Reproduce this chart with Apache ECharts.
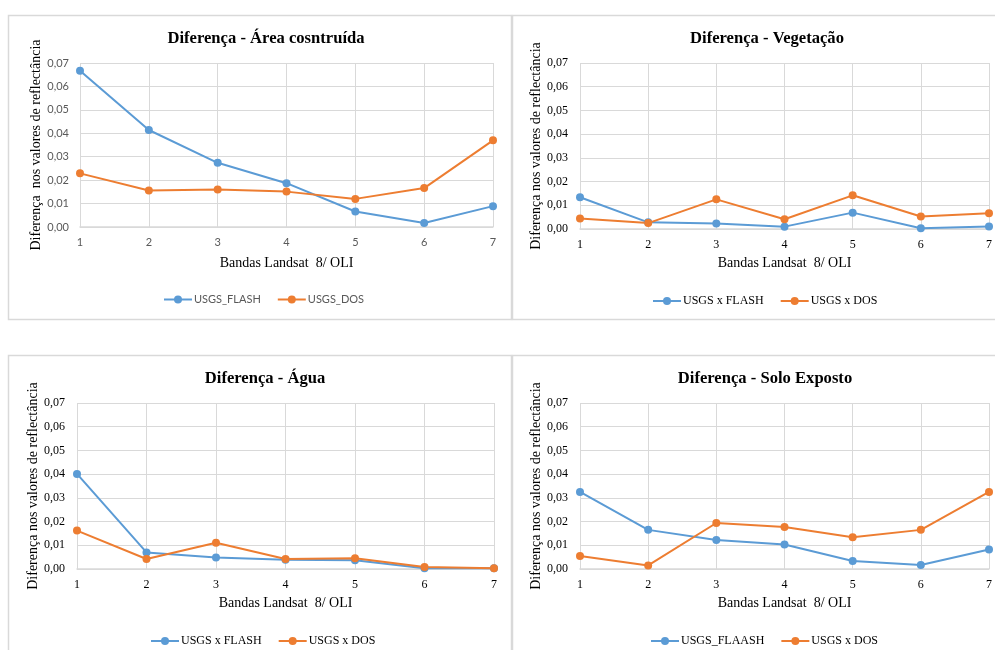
<!DOCTYPE html>
<html>
<head>
<meta charset="utf-8">
<script src="https://cdn.jsdelivr.net/npm/echarts@6/dist/echarts.min.js"></script>
<style>
  html, body { margin: 0; padding: 0; background: #fff; }
  #chart { width: 995px; height: 650px; }
</style>
</head>
<body>
<div id="chart"></div>
<script>
// bandas Landsat 8 / OLI
const bandas = ["1", "2", "3", "4", "5", "6", "7"];

// Área construída
const areaFlash = [0.0667, 0.0414, 0.0274, 0.0187, 0.0066, 0.0017, 0.0089];
const areaDos = [0.0229, 0.0156, 0.016, 0.0151, 0.012, 0.0166, 0.037];

// Vegetação
const vegFlash = [0.0134, 0.0028, 0.0023, 0.001, 0.0069, 0.0003, 0.0011];
const vegDos = [0.0044, 0.0025, 0.0125, 0.0041, 0.0142, 0.0053, 0.0066];

// Água
const aguaFlash = [0.0401, 0.007, 0.0048, 0.0039, 0.0037, 0.0003, 0.0003];
const aguaDos = [0.0162, 0.0042, 0.0111, 0.0042, 0.0045, 0.0008, 0.0003];

// Solo exposto
const soloFlaash = [0.0325, 0.0165, 0.0122, 0.0103, 0.0034, 0.0017, 0.0082];
const soloDos = [0.0055, 0.0015, 0.0194, 0.0177, 0.0134, 0.0165, 0.0325];

const AZUL = "#5B9BD5";
const LARANJA = "#ED7D31";
const GRADE = "#d9d9d9";
const SERIF = "Liberation Serif";
const SANS = "Lato";

// paineis: posição do grid, textos e dados
const paineis = [
  {
    titulo: "Diferença - Área cosntruída", tituloX: 261, tituloY: 25,
    grid: { left: 80, top: 63, width: 413, height: 164 },
    yNome: "Diferença  nos valores de reflectância", yGap: 37,
    xGap: 29, legendaX: 158, legendaY: 289,
    nomes: ["USGS_FLASH", "USGS_DOS"], dados: [areaFlash, areaDos],
    fonte: SANS, corTexto: "#595959", tamTexto: 11,
  },
  {
    titulo: "Diferença - Vegetação", tituloX: 762, tituloY: 25,
    grid: { left: 580, top: 63, width: 412, height: 166 },
    yNome: "Diferença nos valores de reflectância", yGap: 34,
    xGap: 27, legendaX: 647, legendaY: 290,
    nomes: ["USGS x FLASH", "USGS x DOS"], dados: [vegFlash, vegDos],
    fonte: SERIF, corTexto: "#000", tamTexto: 12,
  },
  {
    titulo: "Diferença - Água", tituloX: 260, tituloY: 365,
    grid: { left: 77, top: 403, width: 417, height: 166 },
    yNome: "Diferença nos valores de reflectância", yGap: 34,
    xGap: 27, legendaX: 145, legendaY: 630,
    nomes: ["USGS x FLASH", "USGS x DOS"], dados: [aguaFlash, aguaDos],
    fonte: SERIF, corTexto: "#000", tamTexto: 12,
  },
  {
    titulo: "Diferença - Solo Exposto", tituloX: 760, tituloY: 365,
    grid: { left: 580, top: 403, width: 412, height: 166 },
    yNome: "Diferença nos valores de reflectância", yGap: 34,
    xGap: 27, legendaX: 645, legendaY: 630,
    nomes: ["USGS_FLAASH", "USGS x DOS"], dados: [soloFlaash, soloDos],
    fonte: SERIF, corTexto: "#000", tamTexto: 12,
  },
];

const option = {
  animation: false,
  backgroundColor: "#fff",
  title: [],
  legend: [],
  grid: [],
  xAxis: [],
  yAxis: [],
  series: [],
  graphic: [
    // molduras dos gráficos
    { type: "rect", shape: { x: 8.5, y: 15.5, width: 503, height: 304 }, style: { fill: null, stroke: GRADE, lineWidth: 1.5 } },
    { type: "rect", shape: { x: 512.5, y: 15.5, width: 500, height: 304 }, style: { fill: null, stroke: GRADE, lineWidth: 1.5 } },
    { type: "rect", shape: { x: 8.5, y: 355.5, width: 503, height: 320 }, style: { fill: null, stroke: GRADE, lineWidth: 1.5 } },
    { type: "rect", shape: { x: 512.5, y: 355.5, width: 500, height: 320 }, style: { fill: null, stroke: GRADE, lineWidth: 1.5 } },
  ],
};

paineis.forEach((p, i) => {
  option.title.push({
    text: p.titulo,
    left: p.tituloX,
    top: p.tituloY,
    textAlign: "center",
    textStyle: { fontFamily: SERIF, fontWeight: "bold", fontSize: 16.6, color: "#000" },
  });
  option.grid.push(Object.assign({ containLabel: false }, p.grid));
  option.xAxis.push({
    type: "category",
    gridIndex: i,
    data: bandas,
    boundaryGap: false,
    name: "Bandas Landsat  8/ OLI",
    nameLocation: "middle",
    nameGap: p.xGap,
    nameTextStyle: { fontFamily: SERIF, fontSize: 14, color: "#000", verticalAlign: "top" },
    axisLine: { lineStyle: { color: GRADE, width: 1.5 } },
    axisTick: { show: false },
    axisLabel: { margin: 10, fontFamily: p.fonte, fontSize: p.tamTexto, color: p.corTexto },
    splitLine: { show: true, lineStyle: { color: GRADE, width: 1 } },
  });
  option.yAxis.push({
    type: "value",
    gridIndex: i,
    min: 0,
    max: 0.07,
    interval: 0.01,
    name: p.yNome,
    nameLocation: "middle",
    nameRotate: 90,
    nameGap: p.yGap,
    nameTextStyle: { fontFamily: SERIF, fontSize: 14, color: "#000" },
    axisLine: { show: false },
    axisTick: { show: false },
    axisLabel: {
      margin: i === 0 ? 11 : 12,
      fontFamily: p.fonte,
      fontSize: p.tamTexto,
      color: p.corTexto,
      formatter: (v) => v.toFixed(2).replace(".", ","),
    },
    splitLine: { show: true, lineStyle: { color: GRADE, width: 1 } },
  });
  const cores = [AZUL, LARANJA];
  p.nomes.forEach((nome, k) => {
    option.series.push({
      name: nome,
      type: "line",
      xAxisIndex: i,
      yAxisIndex: i,
      data: p.dados[k],
      symbol: "circle",
      symbolSize: 8,
      lineStyle: { color: cores[k], width: 2 },
      itemStyle: { color: cores[k] },
    });
  });
  option.legend.push({
    data: p.nomes,
    left: p.legendaX,
    top: p.legendaY,
    itemWidth: 28,
    itemHeight: 10,
    itemGap: 16,
    textStyle: { fontFamily: p.fonte, fontSize: p.tamTexto, color: p.corTexto, padding: [0, 0, 0, -3] },
    selectedMode: false,
  });
});

const chart = echarts.init(document.getElementById("chart"));
chart.setOption(option);
</script>
</body>
</html>
